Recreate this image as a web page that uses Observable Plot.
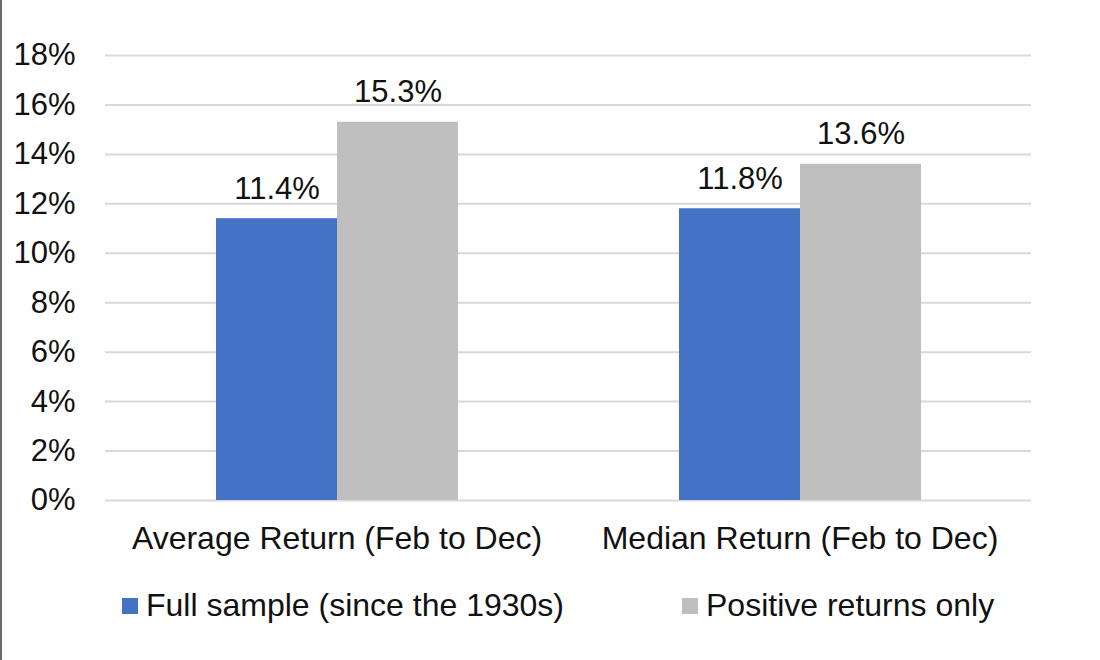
<!DOCTYPE html>
<html>
<head>
<meta charset="utf-8">
<script src="https://cdn.jsdelivr.net/npm/d3@7"></script>
<script src="https://cdn.jsdelivr.net/npm/@observablehq/plot@0.6"></script>
<style>
  html, body { margin: 0; padding: 0; background: #fff; }
  #wrap { position: relative; width: 1100px; height: 660px; box-sizing: border-box; border-left: 2px solid #6b6b6b; font-family: "Liberation Sans", Arial, sans-serif; overflow: hidden; }
  #chart { position: absolute; left: -2px; top: 0; }
  .leg { position: absolute; top: 587px; display: flex; align-items: center; font-size: 32px; color: #111; white-space: nowrap; }
  .sw { width: 16px; height: 16px; margin-right: 8px; }
</style>
</head>
<body>
<div id="wrap">
  <div id="chart"></div>
  <div id="legend"></div>
</div>
<script>
const categories = ["Average Return (Feb to Dec)", "Median Return (Feb to Dec)"];
const seriesNames = ["Full sample (since the 1930s)", "Positive returns only"];
const fullSample = [11.4, 11.8];
const positiveOnly = [15.3, 13.6];
const yTicks = [0, 2, 4, 6, 8, 10, 12, 14, 16, 18];
const colors = ["#4472C4", "#BFBFBF"];

const data = [];
categories.forEach((c, i) => {
  data.push({cat: c, series: seriesNames[0], value: fullSample[i]});
  data.push({cat: c, series: seriesNames[1], value: positiveOnly[i]});
});

const chart = Plot.plot({
  width: 1100,
  height: 570,
  marginTop: 55,
  marginBottom: 70,
  marginLeft: 104,
  marginRight: 69,
  style: {fontFamily: "'Liberation Sans', Arial, sans-serif", color: "#111", background: "transparent"},
  fx: {domain: categories, padding: 0, label: null, axis: null},
  x: {domain: seriesNames, paddingInner: 0, paddingOuter: 0.907, axis: null},
  y: {domain: [0, 18], ticks: yTicks, axis: null},
  color: {domain: seriesNames, range: colors},
  marks: [
    Plot.ruleY(yTicks, {stroke: "#D9D9D9", strokeWidth: 2}),
    Plot.axisY(yTicks, {tickSize: 0, tickPadding: 30, tickFormat: d => d + "%", fontSize: 31, label: null, facetAnchor: "left"}),
    Plot.axisFx({anchor: "bottom", tickSize: 0, tickPadding: 26, fontSize: 32, label: null}),
    Plot.barY(data, {fx: "cat", x: "series", y: "value", fill: "series"}),
    Plot.text(data, {fx: "cat", x: "series", y: "value", text: d => d.value.toFixed(1) + "%", lineAnchor: "bottom", dy: -20, fontSize: 31, fill: "#111"})
  ]
});
document.getElementById("chart").appendChild(chart);

const legend = document.getElementById("legend");
const legX = [120, 680];
seriesNames.forEach((s, i) => {
  const item = document.createElement("div");
  item.className = "leg";
  item.style.left = legX[i] + "px";
  const sw = document.createElement("div");
  sw.className = "sw";
  sw.style.background = colors[i];
  const t = document.createElement("span");
  t.textContent = s;
  item.appendChild(sw);
  item.appendChild(t);
  legend.appendChild(item);
});
</script>
</body>
</html>
